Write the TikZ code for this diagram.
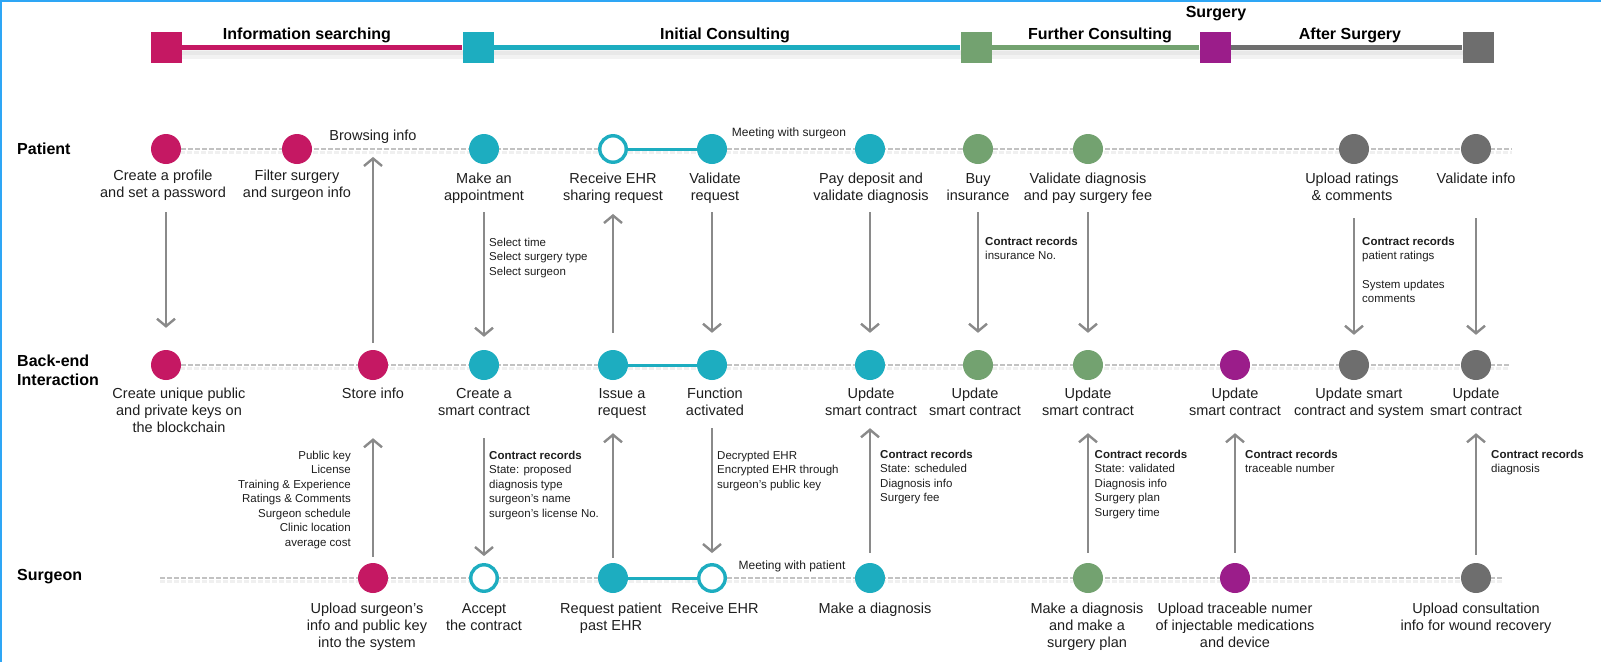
\documentclass[tikz,border=0pt]{standalone}
\usepackage{fontspec}
\setmainfont{Liberation Sans}
\usetikzlibrary{arrows.meta,backgrounds}

\definecolor{infocol}{HTML}{C51863}
\definecolor{initcol}{HTML}{1DADC0}
\definecolor{furthcol}{HTML}{73A270}
\definecolor{surgcol}{HTML}{9B1D8A}
\definecolor{aftercol}{HTML}{6E6E6E}
\definecolor{arrowgray}{HTML}{8A8A8A}
\definecolor{lanegray}{HTML}{C2C2C2}
\definecolor{framecol}{HTML}{2EA6F5}
\definecolor{textcol}{HTML}{1E1E1E}

\tikzset{
  phase/.style={rectangle,inner sep=0pt,minimum size=31pt,fill=#1},
  phasetitle/.style={inner sep=0pt,anchor=base,text=black,font=\fontsize{16}{19}\selectfont\bfseries},
  lanetitle/.style={inner sep=0pt,anchor=base west,align=left,text=black,font=\fontsize{16}{19}\selectfont\bfseries},
  actdot/.style={circle,inner sep=0pt,minimum size=30pt,fill=#1},
  actring/.style={circle,inner sep=0pt,minimum size=26.5pt,draw=#1,line width=3.4pt,fill=white},
  lbl/.style={align=center,inner sep=0pt,anchor=north,text=textcol,font=\fontsize{14.5}{17}\selectfont},
  notetext/.style={align=left,inner sep=0pt,anchor=north west,text=textcol,font=\fontsize{11.5}{14.45}\selectfont},
  lane/.style={draw=lanegray,line width=2.8pt,dash pattern=on 4.5pt off 2.5pt},
  laneshadow/.style={draw=black!6,line width=3pt,dash pattern=on 4.5pt off 2.5pt},
}

\begin{document}
\begin{tikzpicture}[x=1pt,y=-1pt]
  \useasboundingbox (0,0) rectangle (1601,662);
  \draw[framecol,line width=3pt] (0,662) -- (0,0) -- (1601,0);

  % phases
  \node[phase=infocol]  (ph1) at (166,47.5)  {};
  \node[phase=initcol]  (ph2) at (478,47.5)  {};
  \node[phase=furthcol] (ph3) at (976,47.5)  {};
  \node[phase=surgcol]  (ph4) at (1215,47.5) {};
  \node[phase=aftercol] (ph5) at (1478,47.5) {};
  \begin{scope}[on background layer]
    \draw[black!5,line width=9pt] ([yshift=-7pt]ph1.center) -- ([yshift=-7pt]ph5.center);
    \draw[black!9,line width=4pt] ([yshift=-5pt]ph1.center) -- ([yshift=-5pt]ph5.center);
    \draw[infocol,line width=5pt]  (ph1) -- (ph2);
    \draw[initcol,line width=5pt]  (ph2) -- (ph3);
    \draw[furthcol,line width=5pt] (ph3) -- (ph4);
    \draw[aftercol,line width=5pt] (ph4) -- (ph5);
  \end{scope}
  \node[phasetitle] (info)  at (307,39)  {Information searching};
  \node[phasetitle] (init)  at (725,39)  {Initial Consulting};
  \node[phasetitle] (furth) at (1100,39) {Further Consulting};
  \node[phasetitle] (surg)  at (1216,17) {Surgery};
  \node[phasetitle] (after) at (1350,39) {After Surgery};

  % lanes
  \node[lanetitle] (patient) at (17,154) {Patient};
  \node[lanetitle,anchor=north west] (backend) at (17,354.5) {Back-end\\Interaction};
  \node[lanetitle] (surgeon) at (17,580) {Surgeon};

  % patient
  \node[actdot=infocol]  (p1)  at (166,149)  {};
  \node[actdot=infocol]  (p2)  at (297,149)  {};
  \node[actdot=initcol]  (p3)  at (484,149)  {};
  \node[actring=initcol] (p4)  at (613,149)  {};
  \node[actdot=initcol]  (p5)  at (712,149)  {};
  \node[actdot=initcol]  (p6)  at (870,149)  {};
  \node[actdot=furthcol] (p7)  at (978,149)  {};
  \node[actdot=furthcol] (p8)  at (1088,149) {};
  \node[actdot=aftercol] (p9)  at (1354,149) {};
  \node[actdot=aftercol] (p10) at (1476,149) {};
  \coordinate (pend) at (1512,149);

  \node[lbl] (p1t)  at (163,169.5)  {Create a profile\\and set a password};
  \node[lbl] (p2t)  at (297,169.5)  {Filter surgery\\and surgeon info};
  \node[lbl] (p3t)  at (484,173)    {Make an\\appointment};
  \node[lbl] (p4t)  at (613,173)    {Receive EHR\\sharing request};
  \node[lbl] (p5t)  at (715,173)    {Validate\\request};
  \node[lbl] (p6t)  at (871,173)    {Pay deposit and\\validate diagnosis};
  \node[lbl] (p7t)  at (978,173)    {Buy\\insurance};
  \node[lbl] (p8t)  at (1088,173)   {Validate diagnosis\\and pay surgery fee};
  \node[lbl] (p9t)  at (1352,173)   {Upload ratings\\\& comments};
  \node[lbl] (p10t) at (1476,173)   {Validate info};

  \node[lbl,anchor=base] (browse) at (373,140.7) {Browsing info};
  \node[inner sep=0pt,anchor=base,text=textcol,font=\fontsize{12}{14}\selectfont] (meetp) at (789,136.7) {Meeting with surgeon};

  % back-end
  \node[actdot=infocol]  (b1)  at (166,365)  {};
  \node[actdot=infocol]  (b2)  at (373,365)  {};
  \node[actdot=initcol]  (b3)  at (484,365)  {};
  \node[actdot=initcol]  (b4)  at (613,365)  {};
  \node[actdot=initcol]  (b5)  at (712,365)  {};
  \node[actdot=initcol]  (b6)  at (870,365)  {};
  \node[actdot=furthcol] (b7)  at (978,365)  {};
  \node[actdot=furthcol] (b8)  at (1088,365) {};
  \node[actdot=surgcol]  (b9)  at (1235,365) {};
  \node[actdot=aftercol] (b10) at (1354,365) {};
  \node[actdot=aftercol] (b11) at (1476,365) {};
  \coordinate (bend) at (1510,365);

  \node[lbl] (b1t)  at (179,388)  {Create unique public\\and private keys on\\the blockchain};
  \node[lbl] (b2t)  at (373,388)  {Store info};
  \node[lbl] (b3t)  at (484,388)  {Create a\\smart contract};
  \node[lbl] (b4t)  at (622,388)  {Issue a\\request};
  \node[lbl] (b5t)  at (715,388)  {Function\\activated};
  \node[lbl] (b6t)  at (871,388)  {Update\\smart contract};
  \node[lbl] (b7t)  at (975,388)  {Update\\smart contract};
  \node[lbl] (b8t)  at (1088,388) {Update\\smart contract};
  \node[lbl] (b9t)  at (1235,388) {Update\\smart contract};
  \node[lbl] (b10t) at (1359,388) {Update smart\\contract and system};
  \node[lbl] (b11t) at (1476,388) {Update\\smart contract};

  % surgeon
  \node[actdot=infocol]  (s1) at (373,578)  {};
  \node[actring=initcol] (s2) at (484,578)  {};
  \node[actdot=initcol]  (s3) at (613,578)  {};
  \node[actring=initcol] (s4) at (712,578)  {};
  \node[actdot=initcol]  (s5) at (870,578)  {};
  \node[actdot=furthcol] (s6) at (1088,578) {};
  \node[actdot=surgcol]  (s7) at (1235,578) {};
  \node[actdot=aftercol] (s8) at (1476,578) {};
  \coordinate (sbeg) at (160,578);
  \coordinate (send) at (1503,578);

  \node[lbl] (s1t) at (367,603)  {Upload surgeon’s\\info and public key\\into the system};
  \node[lbl] (s2t) at (484,603)  {Accept\\the contract};
  \node[lbl] (s3t) at (611,603)  {Request patient\\past EHR};
  \node[lbl] (s4t) at (715,603)  {Receive EHR};
  \node[lbl] (s5t) at (875,603)  {Make a diagnosis};
  \node[lbl] (s6t) at (1087,603) {Make a diagnosis\\and make a\\surgery plan};
  \node[lbl] (s7t) at (1235,603) {Upload traceable numer\\of injectable medications\\and device};
  \node[lbl] (s8t) at (1476,603) {Upload consultation\\info for wound recovery};

  \node[inner sep=0pt,anchor=base,text=textcol,font=\fontsize{12}{14}\selectfont] (meets) at (792,569.3) {Meeting with patient};

  % lane lines
  \begin{scope}[on background layer]
    \draw[laneshadow] ([yshift=-3.5pt]p1.center) -- ([yshift=-3.5pt]pend);
    \draw[laneshadow] ([yshift=-3.5pt]b1.center) -- ([yshift=-3.5pt]bend);
    \draw[laneshadow] ([yshift=-3.5pt]sbeg) -- ([yshift=-3.5pt]send);
    \draw[lane] (p1) -- (pend);
    \draw[lane] (b1) -- (bend);
    \draw[lane] (sbeg) -- (send);
  \end{scope}
  \draw[initcol,line width=3pt] (p4) -- (p5);
  \draw[initcol,line width=3pt] (b4) -- (b5);
  \draw[initcol,line width=3pt] (s3) -- (s4);

  % notes
  \node[notetext] (selnote)   at (489,237.8)  {Select time\\Select surgery type\\Select surgeon};
  \node[notetext] (insnote)   at (985,236.5)  {\textbf{Contract records}\\insurance No.};
  \node[notetext] (ratenote)  at (1362,236.5) {\textbf{Contract records}\\patient ratings\\[14.45pt]System updates\\comments};
  \node[notetext,anchor=north east,align=right] (keynote) at (351,450.8)
    {Public key\\License\\Training \& Experience\\Ratings \& Comments\\Surgeon schedule\\Clinic location\\average cost};
  \node[notetext] (propnote)  at (489,451)    {\textbf{Contract records}\\State: proposed\\diagnosis type\\surgeon’s name\\surgeon’s license No.};
  \node[notetext] (ehrnote)   at (717,451)    {Decrypted EHR\\Encrypted EHR through\\surgeon’s public key};
  \node[notetext] (schednote) at (880,450)    {\textbf{Contract records}\\State: scheduled\\Diagnosis info\\Surgery fee};
  \node[notetext] (validnote) at (1094.5,450) {\textbf{Contract records}\\State: validated\\Diagnosis info\\Surgery plan\\Surgery time};
  \node[notetext] (tracenote) at (1245,450)   {\textbf{Contract records}\\traceable number};
  \node[notetext] (diagnote)  at (1491,450)   {\textbf{Contract records}\\diagnosis};

  % flows
  \begin{scope}[>={Straight Barb[length=7.5pt,width=18pt]},every edge/.style={draw=arrowgray,line width=2.4pt}]
    \path[->] (p1) edge[shorten <=48pt,shorten >=22pt] (b1);
    \path[->] (b2) edge[shorten <=7pt,shorten >=13pt] (browse);
    \path[->] (p3) edge[shorten <=48pt,shorten >=13pt] (b3);
    \path[->] (b4) edge[shorten <=17pt,shorten >=50pt] (p4);
    \path[->] (p5) edge[shorten <=48pt,shorten >=17pt] (b5);
    \path[->] (p6) edge[shorten <=48pt,shorten >=17pt] (b6);
    \path[->] (p7) edge[shorten <=48pt,shorten >=17pt] (b7);
    \path[->] (p8) edge[shorten <=48pt,shorten >=17pt] (b8);
    \path[->] (p9) edge[shorten <=54pt,shorten >=15pt] (b10);
    \path[->] (p10) edge[shorten <=54pt,shorten >=15pt] (b11);
    \path[->] (s1) edge[shorten <=6pt,shorten >=58pt] (b2);
    \path[->] (b3) edge[shorten <=58pt,shorten >=7pt] (s2);
    \path[->] (s3) edge[shorten <=5pt,shorten >=53pt] (b4);
    \path[->] (b5) edge[shorten <=48pt,shorten >=10pt] (s4);
    \path[->] (s5) edge[shorten <=10pt,shorten >=48pt] (b6);
    \path[->] (s6) edge[shorten <=10pt,shorten >=53pt] (b8);
    \path[->] (s7) edge[shorten <=10pt,shorten >=53pt] (b9);
    \path[->] (s8) edge[shorten <=8pt,shorten >=53pt] (b11);
  \end{scope}
\end{tikzpicture}
\end{document}
